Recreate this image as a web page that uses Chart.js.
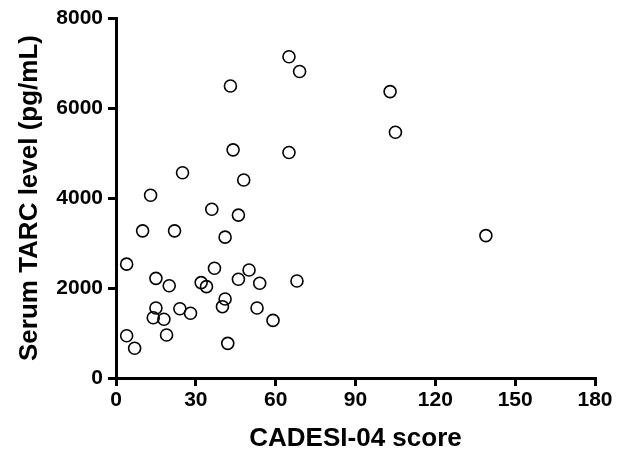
<!DOCTYPE html>
<html>
<head>
<meta charset="utf-8">
<title>Serum TARC vs CADESI-04</title>
<script src="https://cdn.jsdelivr.net/npm/chart.js@4"></script>
<style>
    html, body { margin: 0; padding: 0; background: #fff; }
    #wrap { width: 625px; height: 454px; position: relative; }
</style>
</head>
<body>
<div id="wrap"><canvas id="scatterChart"></canvas></div>
<script>
// CADESI-04 score of each dog (x)
const cadesiScores = [65, 69, 43, 44, 65, 25, 48, 13, 36, 46, 10, 22, 41, 4, 37, 50, 15, 46, 68, 32,
    54, 20, 34, 41, 40, 15, 24, 53, 28, 14, 18, 59, 4, 19, 42, 7, 103, 105, 139];
// Serum TARC level in pg/mL (y)
const tarcLevels = [7140, 6810, 6490, 5070, 5010, 4560, 4400, 4060, 3750, 3620, 3270, 3270, 3130, 2530, 2440, 2400, 2215, 2195, 2155, 2120,
    2105, 2050, 2030, 1755, 1585, 1555, 1540, 1555, 1440, 1340, 1305, 1280, 940, 955, 770, 660, 6365, 5460, 3165];

const xTicks = [0, 30, 60, 90, 120, 150, 180];
const yTicks = [0, 2000, 4000, 6000, 8000];

const points = cadesiScores.map((x, i) => ({ x: x, y: tarcLevels[i] }));

const tickFont = { family: 'Liberation Sans, Arial, sans-serif', size: 21, weight: 'bold' };
const titleFont = { family: 'Liberation Sans, Arial, sans-serif', size: 26, weight: 'bold' };

new Chart(document.getElementById('scatterChart').getContext('2d'), {
    type: 'scatter',
    data: {
        datasets: [{
            label: 'TARC',
            data: points,
            pointStyle: 'circle',
            pointRadius: 6,
            pointBorderWidth: 1.6,
            pointBorderColor: '#000',
            pointBackgroundColor: 'rgba(255,255,255,0)'
        }]
    },
    options: {
        responsive: true,
        maintainAspectRatio: false,
        animation: false,
        layout: { padding: { top: 18, right: 30, left: 0, bottom: 0 } },
        plugins: {
            legend: { display: false },
            tooltip: { enabled: false }
        },
        scales: {
            x: {
                type: 'linear',
                min: xTicks[0],
                max: xTicks[xTicks.length - 1],
                afterBuildTicks: axis => { axis.ticks = xTicks.map(v => ({ value: v })); },
                afterFit: axis => { axis.height = 76; },
                border: { display: true, color: '#000', width: 3 },
                grid: { drawOnChartArea: false, drawTicks: true, tickLength: 8, color: '#000', lineWidth: 3 },
                ticks: { color: '#000', font: tickFont, padding: 2, maxRotation: 0, callback: v => String(v) },
                title: { display: true, text: 'CADESI-04 score', color: '#000', font: titleFont, padding: { top: 6, bottom: 0 } }
            },
            y: {
                type: 'linear',
                min: yTicks[0],
                max: yTicks[yTicks.length - 1],
                afterBuildTicks: axis => { axis.ticks = yTicks.map(v => ({ value: v })); },
                afterFit: axis => { axis.width = 116; },
                border: { display: true, color: '#000', width: 3 },
                grid: { drawOnChartArea: false, drawTicks: true, tickLength: 8, color: '#000', lineWidth: 3 },
                ticks: { color: '#000', font: tickFont, padding: 5, callback: v => String(v) },
                title: { display: true, text: 'Serum TARC level (pg/mL)', color: '#000', font: titleFont, padding: { top: 14, bottom: 0 } }
            }
        }
    }
});
</script>
</body>
</html>
